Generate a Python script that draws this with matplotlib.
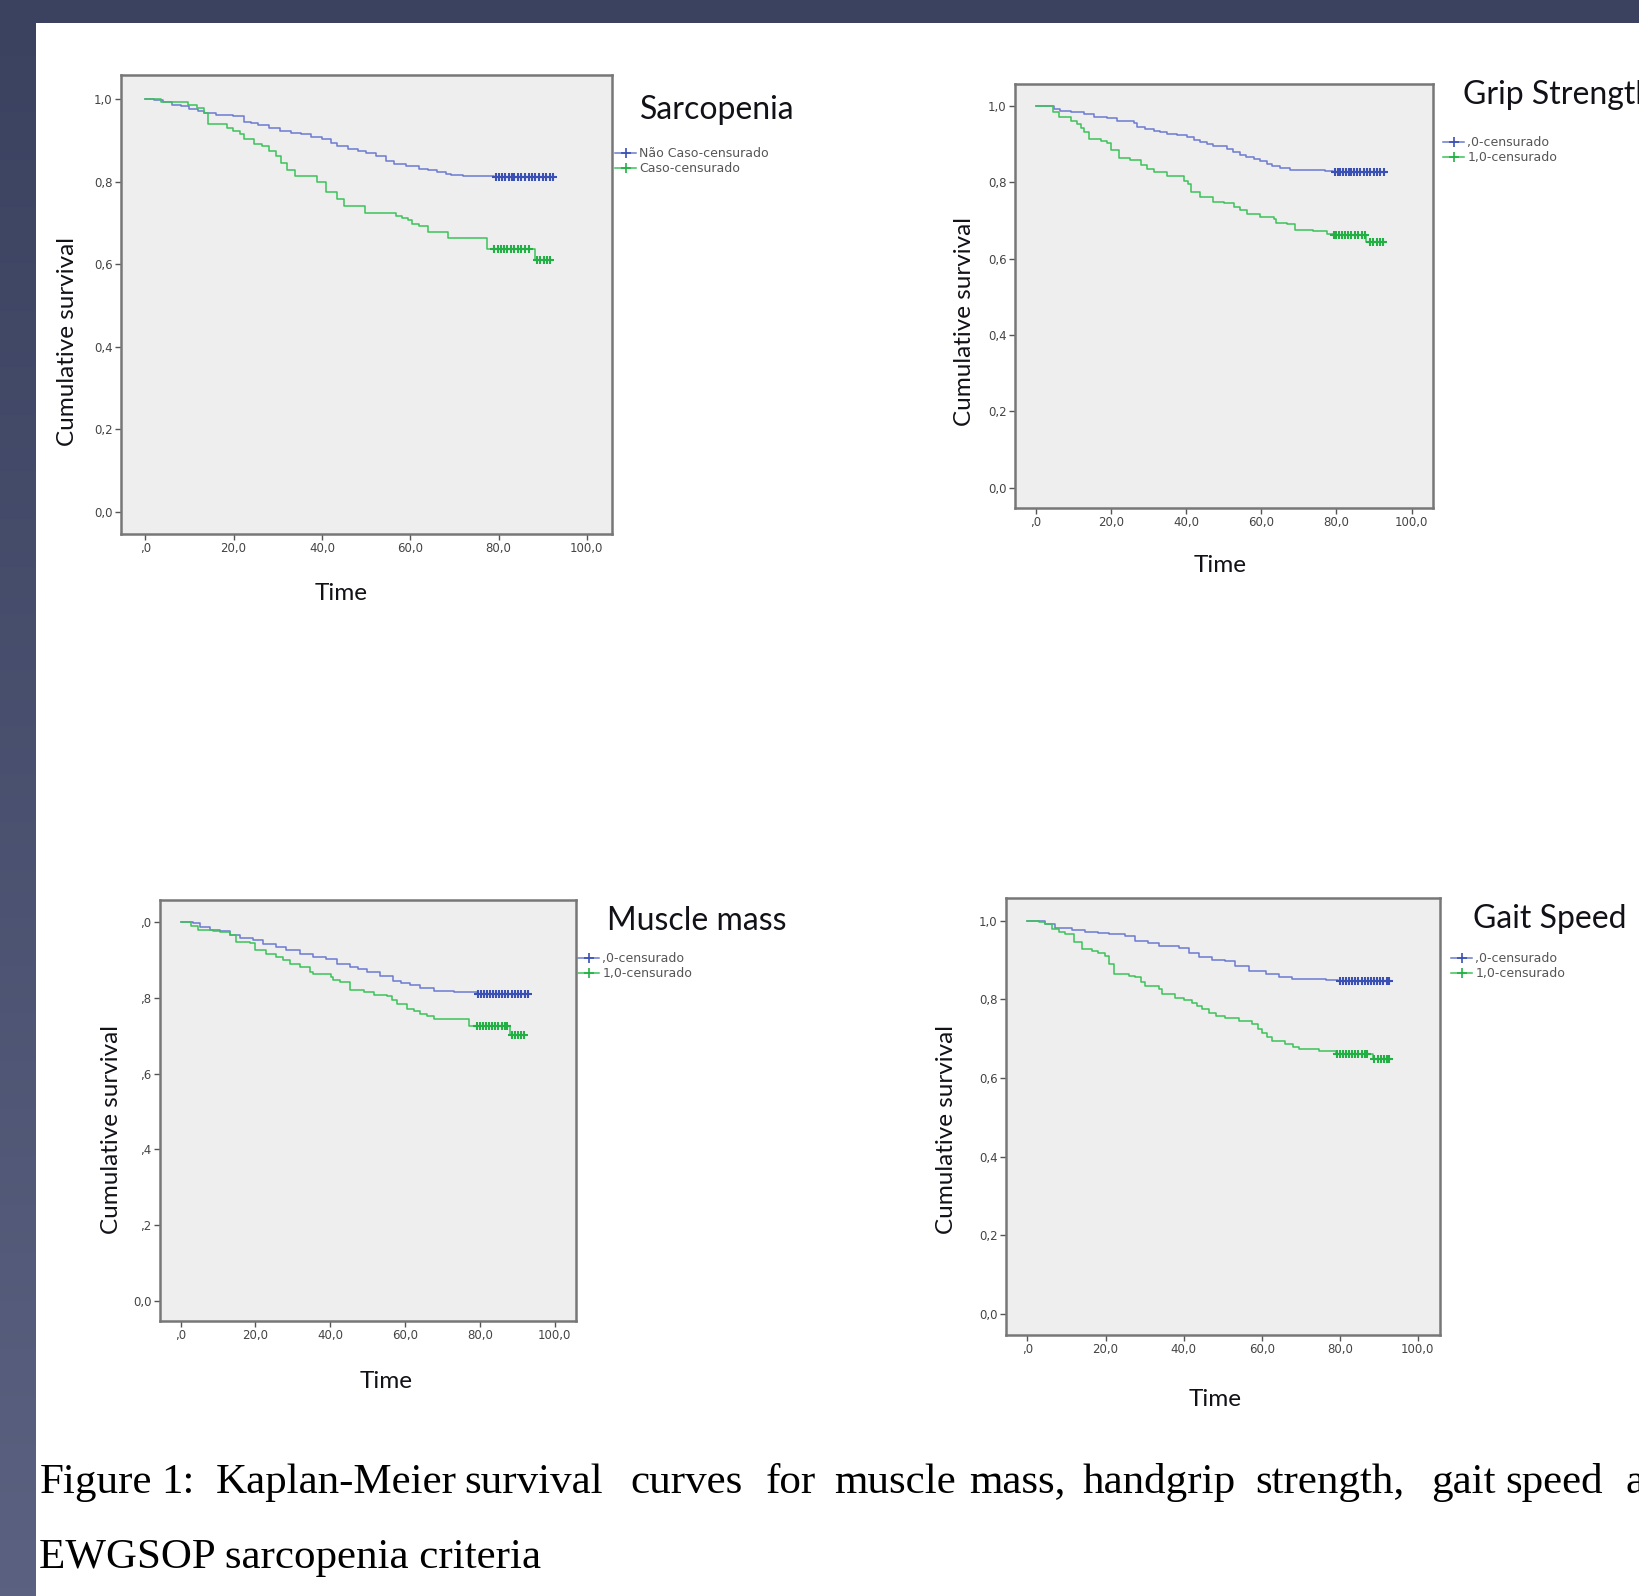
import numpy as np
import matplotlib
matplotlib.use('Agg')
import matplotlib.pyplot as plt
from matplotlib.lines import Line2D

W, H = 1640, 1596
BLUE = '#6c7bd0'
BLUE_C = '#3b50b4'
GREEN = '#3cc25a'
GREEN_C = '#22b045'

# ---- data (time, survival after the step) ----
sarc_no_t = [0, 2, 4, 6, 8, 10, 12, 13.4, 16, 19.8, 22.3, 24, 25.5, 28, 30.4, 33, 35.2, 37.5, 40.1, 42,
             43.4, 46, 48.2, 50, 52.3, 54.5, 56.3, 59, 62, 64, 66, 68, 69.3, 72, 74, 79]
sarc_no_s = [1, .997, .992, .986, .982, .976, .970, .966, .962, .958, .944, .941, .938, .930, .922, .918,
             .914, .908, .902, .893, .885, .879, .873, .868, .861, .851, .843, .837, .831, .827, .823,
             .819, .815, .814, .813, .811]
sarc_yes_t = [0, 3.6, 9.7, 11.8, 13.2, 14.2, 18.6, 19.8, 21.5, 22.3, 24.7, 26.5, 28, 29.6, 30.8, 32, 34,
              38.9, 41, 43.4, 45, 49.8, 56.7, 58.2, 59.6, 60.4, 62, 64, 68.5, 77.4, 88.3]
sarc_yes_s = [1, .992, .985, .978, .966, .940, .930, .922, .914, .902, .890, .885, .873, .861, .845, .829,
              .813, .800, .776, .758, .740, .724, .716, .712, .708, .698, .692, .677, .664, .638, .611]
sarc_no_cens = [79.5, 80.2, 80.8, 81.5, 82.3, 83.0, 83.6, 84.4, 85.2, 86.0, 86.8, 87.5, 88.3, 89.2, 90.0,
                90.8, 91.6, 92.4]
sarc_yes_cens = [79.0, 79.8, 80.5, 81.3, 82.0, 82.8, 83.5, 84.3, 85.1, 86.0, 87.0, 88.8, 89.5, 90.2, 91.0,
                 91.7]

grip_0_t = [0, 4.9, 6.6, 9.5, 12.8, 15.5, 19, 21.7, 26.1, 27, 29, 31.4, 33, 35, 37.5, 40.3, 42, 43.8,
            45.5, 47.3, 50.9, 52.5, 54.4, 56, 58, 59.8, 61.5, 63, 65, 67.7, 77, 79]
grip_0_s = [1, .993, .987, .984, .980, .971, .969, .961, .955, .945, .941, .936, .932, .928, .924, .919,
            .912, .906, .900, .895, .888, .880, .871, .866, .862, .855, .849, .844, .838, .833, .829, .827]
grip_1_t = [0, 4.5, 6.2, 9.5, 11, 12, 12.8, 14.2, 17.3, 19, 20, 22.1, 25.2, 27.9, 29.5, 31.4, 35, 39.4,
            40.5, 41.2, 43.8, 47.3, 50, 52.7, 54.4, 56.2, 59.7, 63.3, 64, 66.8, 69, 73.9, 77.4, 79.2, 88]
grip_1_s = [1, .984, .971, .962, .954, .943, .932, .915, .908, .903, .886, .865, .860, .845, .836, .827,
            .816, .805, .797, .775, .762, .749, .745, .736, .727, .718, .709, .705, .693, .690, .676,
            .674, .665, .663, .643]
grip_0_cens = [79.5, 80.3, 81.0, 81.8, 82.5, 83.3, 84.0, 84.8, 85.6, 86.4, 87.3, 88.2, 89.0, 89.9, 90.8,
               91.7, 92.6]
grip_1_cens = [79.3, 80.0, 80.8, 81.6, 82.4, 83.2, 84.0, 84.9, 85.8, 86.7, 87.5, 89.0, 89.8, 90.7, 91.5,
               92.4]

musc_0_t = [0, 3.3, 5.1, 7.8, 10.5, 13.1, 15.8, 19.4, 22, 25.6, 28.3, 31.9, 35.5, 39, 41.7, 45.3, 47.5,
            49.8, 53.4, 56.9, 59, 61.4, 64.1, 67.7, 73, 79.3]
musc_0_s = [1, .996, .987, .980, .976, .965, .959, .952, .941, .934, .925, .916, .908, .901, .890, .880,
            .875, .868, .857, .844, .838, .833, .826, .817, .814, .809]
musc_1_t = [0, 2.9, 4.6, 8.7, 10.5, 13.1, 14.9, 18.5, 19.8, 22.9, 25.6, 27.5, 29.2, 31.9, 34.6, 35.5,
            40.2, 40.8, 42.6, 45.3, 48.9, 51.6, 55.1, 56.5, 57.8, 60.5, 62.5, 64.1, 66, 67.7, 77, 88]
musc_1_s = [1, .989, .978, .976, .974, .965, .947, .945, .925, .916, .908, .899, .890, .881, .868, .864,
            .855, .846, .842, .820, .815, .808, .805, .795, .784, .771, .764, .758, .751, .745, .725, .703]
musc_0_cens = [79.5, 80.3, 81.1, 81.9, 82.7, 83.5, 84.3, 85.1, 85.9, 86.8, 87.6, 88.5, 89.4, 90.3, 91.1,
               92.0, 92.8]
musc_1_cens = [79.2, 80.0, 80.8, 81.6, 82.4, 83.2, 84.0, 84.9, 85.8, 86.6, 87.3, 88.6, 89.4, 90.2, 91.0,
               91.8]

gait_0_t = [0, 4.5, 7.1, 11.4, 14.8, 18.2, 20.8, 25.1, 27.6, 31, 33.6, 38.8, 41.3, 43.9, 47.3, 50.7,
            53.3, 56.7, 61, 64.4, 67.8, 76.4, 79.5]
gait_0_s = [1, .992, .983, .977, .972, .970, .966, .962, .949, .943, .936, .932, .919, .907, .901, .898,
            .885, .873, .866, .858, .851, .850, .846]
gait_1_t = [0, 3, 4.5, 6.2, 8, 9.7, 11.8, 13.9, 16.5, 18.2, 19.9, 20.8, 22.1, 25.9, 27.6, 29, 30.2, 33.6,
            34.5, 37.9, 40, 42.2, 43.5, 44.7, 46.5, 48.2, 50.7, 54.1, 57.6, 59, 60.1, 61.5, 62.7, 66.1,
            68, 69.5, 74.7, 79, 88.5]
gait_1_s = [1, .996, .992, .979, .972, .966, .945, .928, .924, .919, .911, .890, .864, .860, .856, .845,
            .834, .826, .813, .805, .799, .792, .784, .775, .766, .758, .754, .745, .737, .726, .715,
            .705, .694, .686, .680, .673, .669, .662, .648]
gait_0_cens = [80.0, 80.8, 81.6, 82.4, 83.2, 84.0, 84.8, 85.6, 86.4, 87.2, 88.0, 88.8, 89.6, 90.4, 91.2,
               92.0, 92.6]
gait_1_cens = [79.2, 80.0, 80.8, 81.6, 82.4, 83.2, 84.0, 84.8, 85.6, 86.4, 87.1, 88.9, 89.7, 90.5, 91.3,
               92.1, 92.6]

xticks = [0, 20, 40, 60, 80, 100]
xticklabels = [',0', '20,0', '40,0', '60,0', '80,0', '100,0']
yticks = [0, 0.2, 0.4, 0.6, 0.8, 1.0]
yticklabels = ['0,0', '0,2', '0,4', '0,6', '0,8', '1,0']
yticklabels_cut = ['0,0', ',2', ',4', ',6', ',8', ',0']

panels = [
    dict(title='Sarcopenia', box=(121, 75, 612, 534), groups=[
        (sarc_no_t, sarc_no_s, sarc_no_cens, 'Não Caso-censurado'),
        (sarc_yes_t, sarc_yes_s, sarc_yes_cens, 'Caso-censurado')],
        ylab=(67, 342), xlab=(341, 593), tpos=(640, 110), leg=(615, 147), ytl=yticklabels),
    dict(title='Grip Strength', box=(1015, 84, 1433, 508), groups=[
        (grip_0_t, grip_0_s, grip_0_cens, ',0-censurado'),
        (grip_1_t, grip_1_s, grip_1_cens, '1,0-censurado')],
        ylab=(965, 322), xlab=(1220, 565), tpos=(1463, 95), leg=(1443, 136), ytl=yticklabels),
    dict(title='Muscle mass', box=(160, 900, 576, 1321), groups=[
        (musc_0_t, musc_0_s, musc_0_cens, ',0-censurado'),
        (musc_1_t, musc_1_s, musc_1_cens, '1,0-censurado')],
        ylab=(112, 1130), xlab=(386, 1382), tpos=(607, 921), leg=(578, 952), ytl=yticklabels_cut),
    dict(title='Gait Speed', box=(1006, 898, 1440, 1335), groups=[
        (gait_0_t, gait_0_s, gait_0_cens, ',0-censurado'),
        (gait_1_t, gait_1_s, gait_1_cens, '1,0-censurado')],
        ylab=(947, 1130), xlab=(1215, 1400), tpos=(1473, 919), leg=(1451, 952), ytl=yticklabels),
]

caption1 = ['Figure', '1:', 'Kaplan-Meier', 'survival', 'curves', 'for', 'muscle', 'mass,',
            'handgrip', 'strength,', 'gait', 'speed', 'and']
caption1_x = [40, 161, 216, 464, 630, 766, 834, 969, 1083, 1255, 1431, 1505, 1626]
caption2 = 'EWGSOP sarcopenia criteria'


def fx(x):
    return x / W


def fy(y):
    return 1 - y / H


def step_value(t, s, when):
    idx = np.searchsorted(np.asarray(t), when, side='right') - 1
    return np.asarray(s)[idx]


fig = plt.figure(figsize=(W / 100, H / 100), dpi=100, facecolor='white')

# dark slide frame
bg = fig.add_axes([0, 0, 1, 1], zorder=-5)
bg.axis('off')
bg.add_patch(plt.Rectangle((0, 0), W, 23, color='#3a4260', lw=0))
grad = np.linspace(0, 1, 200).reshape(-1, 1)
cmap = matplotlib.colors.LinearSegmentedColormap.from_list('side', ['#3a4260', '#5b6180'])
bg.imshow(grad, extent=(0, 36, H, 0), cmap=cmap, aspect='auto', zorder=1)
bg.set_xlim(0, W)
bg.set_ylim(H, 0)

font = 'Lato'
small = 'DejaVu Sans'
for p in panels:
    l, t, r, b = p['box']
    ax = fig.add_axes([fx(l), fy(b), fx(r - l), (b - t) / H])
    ax.set_facecolor('#eeeeee')
    colors = [(BLUE, BLUE_C), (GREEN, GREEN_C)]
    handles, labels = [], []
    for (tt, ss, cens, lab), (lc, cc) in zip(p['groups'], colors):
        tt_full = list(tt) + [max(cens)]
        ss_full = list(ss) + [ss[-1]]
        ax.plot(tt_full, ss_full, drawstyle='steps-post', color=lc, lw=1.1, zorder=3)
        cy = step_value(tt, ss, np.asarray(cens))
        ax.plot(cens, cy, ls='none', marker='+', color=cc, ms=6, mew=1.5, zorder=4)
        handles.append(Line2D([], [], color=lc, lw=1.1, marker='+', ms=7, mew=1.2, mec=cc))
        labels.append(lab)
    ax.set_xlim(-5.5, 105.7)
    ax.set_ylim(-0.053, 1.058)
    ax.set_xticks(xticks)
    ax.set_xticklabels(xticklabels)
    ax.set_yticks(yticks)
    ax.set_yticklabels(p['ytl'])
    ax.tick_params(direction='out', length=4, width=1, color='#555555', labelsize=8.5,
                   labelcolor='#444444', pad=2)
    for lbl in ax.get_xticklabels() + ax.get_yticklabels():
        lbl.set_family(small)
    for sp in ax.spines.values():
        sp.set_color('#777777')
        sp.set_linewidth(1.8)

    leg = ax.legend(handles, labels, loc='upper left', bbox_to_anchor=(fx(p['leg'][0]), fy(p['leg'][1])),
                    bbox_transform=fig.transFigure, frameon=False, fontsize=9, handlelength=1.7,
                    handletextpad=0.25, labelspacing=0.2, borderpad=0, borderaxespad=0)
    for txt in leg.get_texts():
        txt.set_color('#555555')
        txt.set_family(small)

    fig.text(fx(p['tpos'][0]), fy(p['tpos'][1]), p['title'], fontsize=23, family=font,
             color='#111118', ha='left', va='center')
    fig.text(fx(p['ylab'][0]), fy(p['ylab'][1]), 'Cumulative survival', fontsize=17.5, family=font,
             color='#111118', rotation=90, ha='center', va='center')
    fig.text(fx(p['xlab'][0]), fy(p['xlab'][1]), 'Time', fontsize=17.5, family=font,
             color='#111118', ha='center', va='center')

for word, x in zip(caption1, caption1_x):
    fig.text(fx(x), fy(1483), word, fontsize=31, family='Liberation Serif', color='black',
             ha='left', va='center')
fig.text(fx(39), fy(1558), caption2, fontsize=31, family='Liberation Serif', color='black',
         ha='left', va='center')

fig.savefig('out.png', dpi=100, facecolor='white')
